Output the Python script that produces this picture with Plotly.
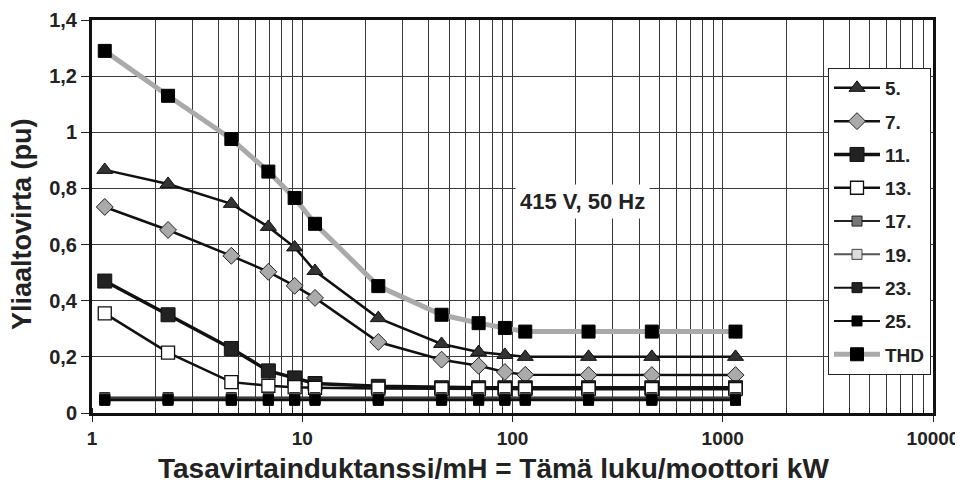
import plotly.graph_objects as go

x_vals = [1.15, 2.3, 4.6, 6.9, 9.2, 11.5, 23, 46, 69, 92, 115, 230, 460, 1150]

h5 = [0.866, 0.816, 0.745, 0.663, 0.59, 0.506, 0.338, 0.246, 0.217, 0.207, 0.2, 0.2, 0.2, 0.2]
h7 = [0.734, 0.652, 0.56, 0.503, 0.453, 0.41, 0.253, 0.19, 0.168, 0.146, 0.136, 0.135, 0.135, 0.135]
h11 = [0.47, 0.35, 0.23, 0.15, 0.125, 0.105, 0.095, 0.09, 0.09, 0.09, 0.09, 0.09, 0.09, 0.09]
h13 = [0.355, 0.215, 0.11, 0.097, 0.092, 0.09, 0.087, 0.085, 0.085, 0.085, 0.085, 0.085, 0.085, 0.085]
h17 = [0.055] * 14
h19 = [0.052] * 14
h23 = [0.048] * 14
h25 = [0.045] * 14
thd = [1.29, 1.13, 0.976, 0.86, 0.766, 0.674, 0.452, 0.35, 0.32, 0.303, 0.29, 0.29, 0.29, 0.29]

y_ticks = [0, 0.2, 0.4, 0.6, 0.8, 1.0, 1.2, 1.4]
y_tick_labels = ["0", "0,2", "0,4", "0,6", "0,8", "1", "1,2", "1,4"]
x_ticks = [1, 10, 100, 1000, 10000]
x_tick_labels = ["1", "10", "100", "1000", "10000"]

series = [
    ("5.", h5, dict(symbol="triangle-up", size=14, color="#333333", line=dict(color="#111111", width=1)), dict(color="#111111", width=2.5)),
    ("7.", h7, dict(symbol="diamond", size=13, color="#aaaaaa", line=dict(color="#222222", width=1)), dict(color="#111111", width=2.5)),
    ("11.", h11, dict(symbol="square", size=14, color="#222222", line=dict(color="#111111", width=1)), dict(color="#111111", width=3.5)),
    ("13.", h13, dict(symbol="square", size=13, color="#ffffff", line=dict(color="#111111", width=1.3)), dict(color="#111111", width=2.5)),
    ("17.", h17, dict(symbol="square", size=10, color="#777777", line=dict(color="#222222", width=1)), dict(color="#222222", width=2)),
    ("19.", h19, dict(symbol="square", size=10, color="#dddddd", line=dict(color="#444444", width=1)), dict(color="#555555", width=2)),
    ("23.", h23, dict(symbol="square", size=10, color="#222222", line=dict(color="#111111", width=1)), dict(color="#111111", width=2)),
    ("25.", h25, dict(symbol="square", size=10, color="#000000", line=dict(color="#000000", width=1)), dict(color="#111111", width=2)),
    ("THD", thd, dict(symbol="square", size=13, color="#000000", line=dict(color="#000000", width=1)), dict(color="#aaaaaa", width=5)),
]

fig = go.Figure()
for name, ys, marker, line in series:
    fig.add_trace(go.Scatter(
        x=x_vals, y=ys, name=name, mode="lines+markers",
        marker=marker, line=line, legendgroup=name,
    ))

fig.add_annotation(
    x=2.335, y=0.755, xref="x", yref="y", text="415 V, 50 Hz", showarrow=False,
    font=dict(family="Liberation Sans, Arial", size=22, weight="bold", color="#222222"),
    bgcolor="#ffffff", borderpad=4,
)

# page has an 8px body margin; figure sized to fit inside the window
W, H = 955, 477
L, R, T, B = 84, 30, 12, 72
pw, ph = W - L - R, H - T - B

def px_to_paper_x(px):
    return (px - 8 - L) / pw

def px_to_paper_y(py):
    return (H - B - (py - 8)) / ph

fig.add_annotation(
    x=px_to_paper_x(493), y=px_to_paper_y(468), xref="paper", yref="paper",
    xanchor="center", yanchor="middle",
    text="Tasavirtainduktanssi/mH = Tämä luku/moottori kW",
    showarrow=False, font=dict(size=28, weight="bold", color="#222222"),
)
fig.add_annotation(
    x=px_to_paper_x(22), y=px_to_paper_y(224), xref="paper", yref="paper",
    xanchor="center", yanchor="middle", textangle=-90,
    text="Yliaaltovirta (pu)",
    showarrow=False, font=dict(size=27, weight="bold", color="#222222"),
)

fig.update_layout(
    width=W, height=H,
    margin=dict(l=L, r=R, t=T, b=B),
    paper_bgcolor="#ffffff", plot_bgcolor="#ffffff",
    font=dict(family="Liberation Sans, Arial", color="#222222"),
    legend=dict(
        x=px_to_paper_x(828), y=px_to_paper_y(68), xanchor="left", yanchor="top",
        bgcolor="#ffffff", bordercolor="#222222", borderwidth=1,
        font=dict(size=19, weight="bold", color="#222222"), tracegroupgap=5.6,
        itemwidth=46,
    ),
    showlegend=True,
)

fig.update_xaxes(
    type="log", range=[0, 4], automargin=False,
    tickvals=x_ticks, ticktext=x_tick_labels,
    tickfont=dict(size=19, weight="bold", color="#222222"),
    showgrid=True, gridcolor="#3a3a3a", gridwidth=1.2,
    minor=dict(dtick="D1", showgrid=True, gridcolor="#3a3a3a", gridwidth=1.2, ticks="inside", ticklen=5, tickcolor="#222222"),
    ticks="outside", ticklen=6, tickcolor="#222222",
    showline=True, linecolor="#111111", linewidth=3, mirror=True,
    zeroline=False,
)
fig.update_yaxes(
    range=[0, 1.4], automargin=False,
    tickvals=y_ticks, ticktext=y_tick_labels,
    tickfont=dict(size=20, weight="bold", color="#222222"),
    showgrid=True, gridcolor="#3a3a3a", gridwidth=1.2,
    ticks="outside", ticklen=8, tickcolor="#222222",
    showline=True, linecolor="#111111", linewidth=3, mirror=True,
    zeroline=False,
)

fig.write_html("out.html")
